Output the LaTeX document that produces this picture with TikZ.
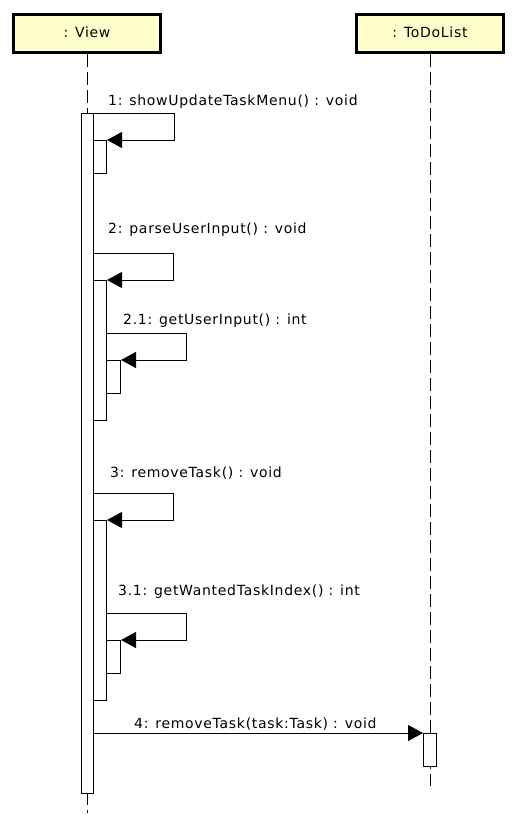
\documentclass[tikz,border=0pt]{standalone}
\usepackage{fontspec}
\setmainfont{DejaVu Sans}[LetterSpace=5]
\usetikzlibrary{arrows.meta}
\definecolor{boxyellow}{RGB}{255,255,204}
\begin{document}
\begin{tikzpicture}[x=1bp,y=-1bp,
  obj/.style={draw,line width=3bp,fill=boxyellow,minimum width=147bp,minimum height=38bp,inner sep=0pt,font=\fontsize{14bp}{16bp}\selectfont},
  life/.style={line width=1bp,dash pattern=on 13bp off 5bp},
  act/.style={draw,line width=1bp,fill=white,inner sep=0pt,anchor=north west},
  msg/.style={line width=1bp,-{Triangle[length=15bp,width=16bp]}},
  lbl/.style={anchor=base west,inner sep=0pt,font=\fontsize{14bp}{16bp}\selectfont}]
\useasboundingbox (0,0) rectangle (516,826);
\node[obj] (view) at (87,33.5) {\raisebox{3.5bp}{: View}};
\node[obj] (todo) at (430,33.5) {\raisebox{3.5bp}{: ToDoList}};
\coordinate (viewend) at (87,813);
\coordinate (todoend) at (430,786);
\draw[life] (view.south) -- (viewend);
\draw[life] (todo.south) -- (todoend);
% activations
\node[act,minimum width=12bp,minimum height=680bp] (a0) at (81,113) {};
\node[act,minimum width=13bp,minimum height=33bp] (a1) at (93,140) {};
\node[act,minimum width=13bp,minimum height=140bp] (a2) at (93,280) {};
\node[act,minimum width=14bp,minimum height=33bp] (a21) at (106,360) {};
\node[act,minimum width=13bp,minimum height=180bp] (a3) at (93,520) {};
\node[act,minimum width=14bp,minimum height=33bp] (a31) at (106,640) {};
\node[act,minimum width=13bp,minimum height=33bp] (a4) at (423,733) {};
% start points of messages
\coordinate (s2) at (93,253);
\coordinate (s21) at (106,333);
\coordinate (s3) at (93,493);
\coordinate (s31) at (106,613);
\coordinate (s4) at (93,733);
% messages
\draw[msg] (a0.north east) -- ++(80,0) |- (a1.north east);
\draw[msg] (s2) -- ++(80,0) |- (a2.north east);
\draw[msg] (s21) -- ++(80,0) |- (a21.north east);
\draw[msg] (s3) -- ++(80,0) |- (a3.north east);
\draw[msg] (s31) -- ++(80,0) |- (a31.north east);
\draw[msg] (s4) -- (a4.north west);
% labels
\node[lbl] (l1) at (108,105) {1: showUpdateTaskMenu() : void};
\node[lbl] (l2) at (108,233) {2: parseUserInput() : void};
\node[lbl] (l21) at (123,324) {2.1: getUserInput() : int};
\node[lbl] (l3) at (110,477) {3: removeTask() : void};
\node[lbl] (l31) at (118,595) {3.1: getWantedTaskIndex() : int};
\node[lbl] (l4) at (134,728) {4: removeTask(task:Task) : void};
\end{tikzpicture}
\end{document}
